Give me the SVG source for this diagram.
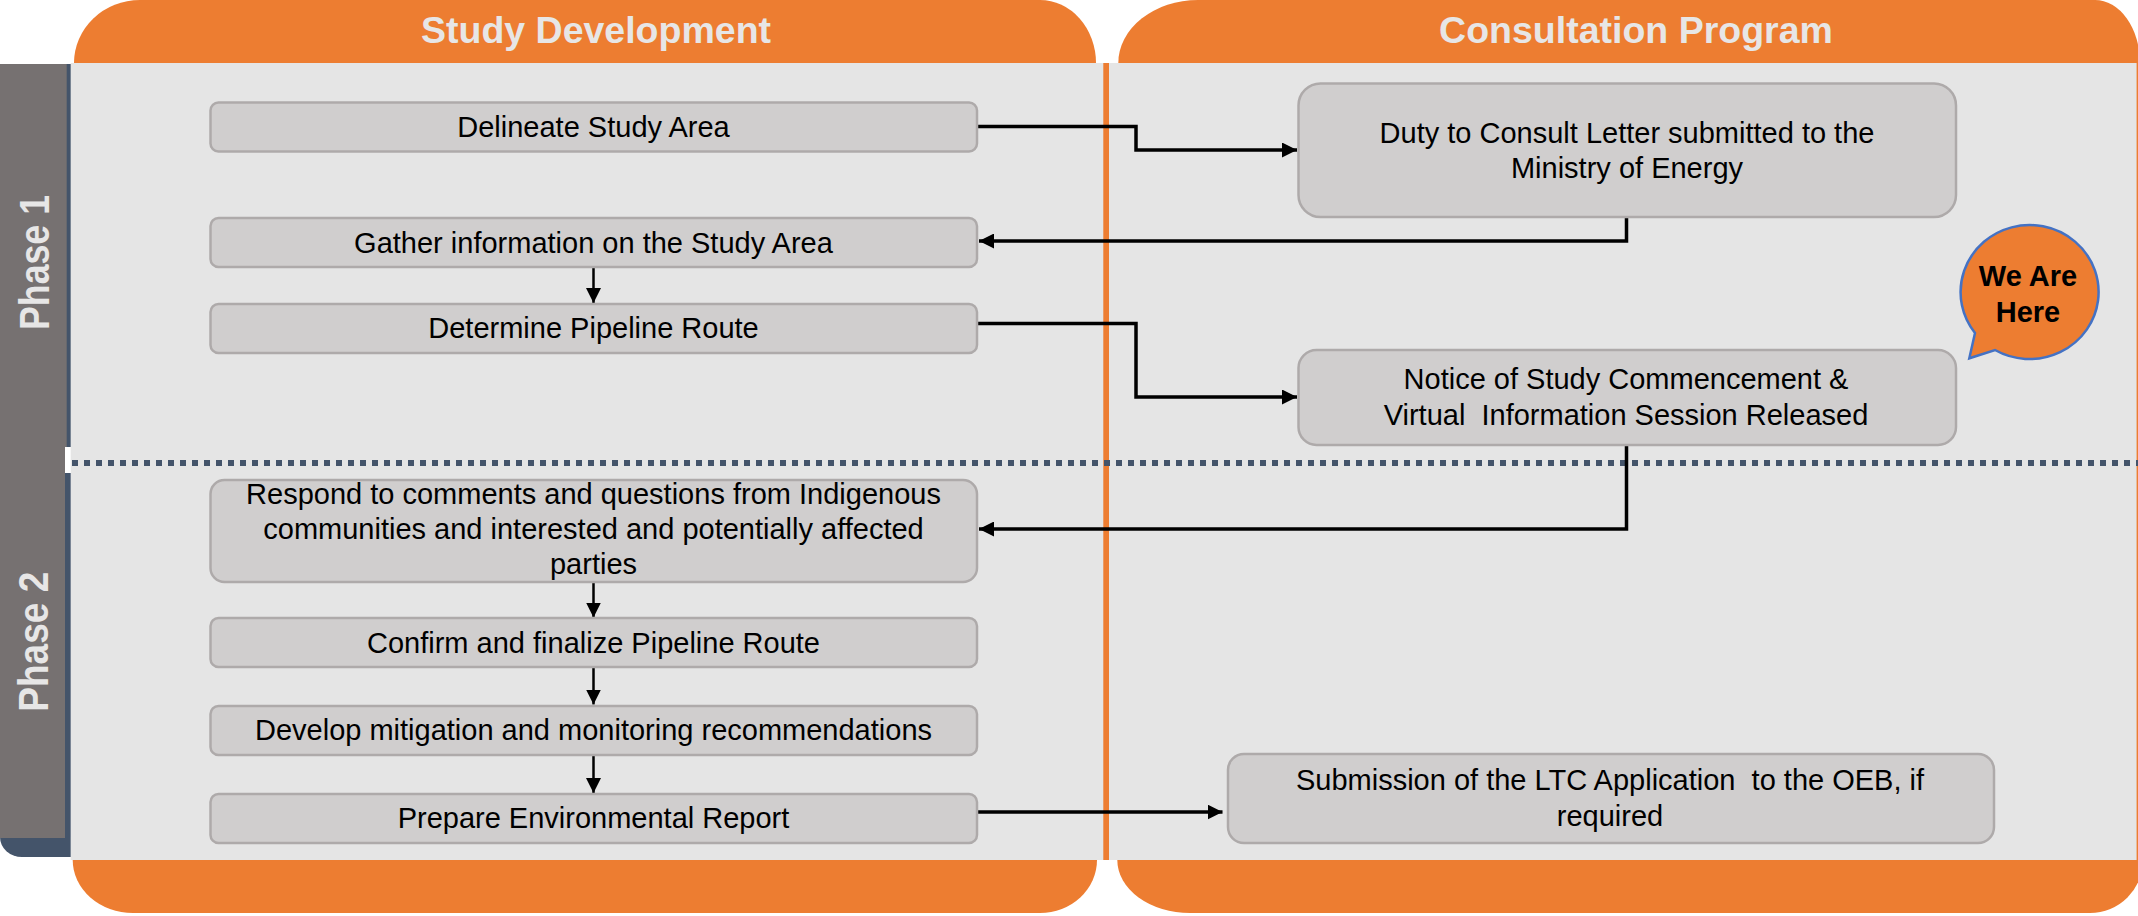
<svg xmlns="http://www.w3.org/2000/svg" width="2138" height="916" viewBox="0 0 2138 916">
<defs>
<style>
.hdr{fill:#ED7D31}
.hdrt{font-family:"Liberation Sans",Arial,sans-serif;font-weight:bold;font-size:37.5px;fill:#E7E6E6;text-anchor:middle}
.ph{font-family:"Liberation Sans",Arial,sans-serif;font-weight:bold;font-size:42px;fill:#E7E6E6;text-anchor:middle}
.box{fill:#D0CECE;stroke:#AEAAAA;stroke-width:2.5}
.t{font-family:"Liberation Sans",Arial,sans-serif;font-size:29px;fill:#000;text-anchor:middle}
.bt{font-family:"Liberation Sans",Arial,sans-serif;font-size:29px;font-weight:bold;fill:#000;text-anchor:middle}
.c{fill:none;stroke:#000;stroke-width:3.5}
.cv{fill:none;stroke:#000;stroke-width:2.5}
</style>
<marker id="ah" markerUnits="userSpaceOnUse" markerWidth="15" markerHeight="15" refX="15" refY="7.5" orient="auto">
<path d="M0,0 L15,7.5 L0,15 Z" fill="#000"/>
</marker>
</defs>
<rect x="0" y="0" width="2138" height="916" fill="#FFFFFF"/>
<g id="background">
<rect x="70.7" y="63" width="2067.3" height="797" fill="#E5E5E5"/>
<rect x="1103.3" y="63" width="5.7" height="797" fill="#ED7D31"/>
<rect x="2136.6" y="63" width="1.4" height="797" fill="#ED7D31"/>
<path class="hdr" d="M74,63 A66 63 0 0 1 140,0 H1040 A56 63 0 0 1 1096,63 Z"/>
<path class="hdr" d="M1118.3,63 A80 63 0 0 1 1198,0 H2095 A45 63 0 0 1 2140,63 Z"/>
<path class="hdr" d="M72.7,860 H1097 A57 53 0 0 1 1040,913 H133 A60.3 53 0 0 1 72.7,860 Z"/>
<path class="hdr" d="M1117.3,860 H2143 A53 53 0 0 1 2090,913 H1190 A72.7 53 0 0 1 1117.3,860 Z"/>
<text class="hdrt" x="596" y="43.3">Study Development</text>
<text class="hdrt" x="1636" y="43.3">Consultation Program</text>
<line x1="72" y1="463" x2="2138" y2="463" stroke="#44546A" stroke-width="6" stroke-dasharray="6 6"/>
</g>
<g id="phase1">
<rect x="0" y="64" width="70.7" height="383" fill="#44546A"/>
<rect x="0" y="64" width="66.7" height="383" fill="#767171"/>
<text class="ph" transform="translate(49,262.5) rotate(-90)" x="0" y="0" textLength="135" lengthAdjust="spacingAndGlyphs">Phase 1</text>
</g>
<g id="phase2">
<path d="M0,473 H70.7 V857 H22 A22 20 0 0 1 0,837 Z" fill="#44546A"/>
<rect x="0" y="447" width="65" height="391" fill="#767171"/>
<text class="ph" transform="translate(47.7,641.7) rotate(-90)" x="0" y="0" textLength="140" lengthAdjust="spacingAndGlyphs">Phase 2</text>
</g>
<g id="connectors">
<path class="c" d="M977.5,126.5 H1136 V150 H1297" marker-end="url(#ah)"/>
<path class="c" d="M1626.5,217 V241 H979" marker-end="url(#ah)"/>
<path class="c" d="M977.5,323.5 H1136 V397 H1297" marker-end="url(#ah)"/>
<path class="c" d="M1626.5,445 V529 H979" marker-end="url(#ah)"/>
<path class="c" d="M977.5,812 H1222.5" marker-end="url(#ah)"/>
<path class="cv" d="M593.5,267 V303" marker-end="url(#ah)"/>
<path class="cv" d="M593.5,582 V617.5" marker-end="url(#ah)"/>
<path class="cv" d="M593.5,667.5 V704.5" marker-end="url(#ah)"/>
<path class="cv" d="M593.5,755 V793" marker-end="url(#ah)"/>
</g>
<g id="delineate">
<rect class="box" x="210.5" y="102.5" width="766.5" height="49" rx="8"/>
<text class="t" x="593.5" y="136.5">Delineate Study Area</text>
</g>
<g id="gather">
<rect class="box" x="210.5" y="218" width="766.5" height="49" rx="8"/>
<text class="t" x="593.5" y="253">Gather information on the Study Area</text>
</g>
<g id="determine">
<rect class="box" x="210.5" y="304" width="766.5" height="49" rx="8"/>
<text class="t" x="593.5" y="338.3">Determine Pipeline Route</text>
</g>
<g id="respond">
<rect class="box" x="210.5" y="480" width="766.5" height="102" rx="14"/>
<text class="t" x="593.5" y="503.5">Respond to comments and questions from Indigenous</text>
<text class="t" x="593.5" y="538.5">communities and interested and potentially affected</text>
<text class="t" x="593.5" y="573.5">parties</text>
</g>
<g id="confirm">
<rect class="box" x="210.5" y="618" width="766.5" height="49" rx="8"/>
<text class="t" x="593.5" y="653.3">Confirm and finalize Pipeline Route</text>
</g>
<g id="develop">
<rect class="box" x="210.5" y="706" width="766.5" height="49" rx="8"/>
<text class="t" x="593.5" y="740">Develop mitigation and monitoring recommendations</text>
</g>
<g id="prepare">
<rect class="box" x="210.5" y="794" width="766.5" height="49" rx="8"/>
<text class="t" x="593.5" y="828.3">Prepare Environmental Report</text>
</g>
<g id="duty">
<rect class="box" x="1298.5" y="83.5" width="657.5" height="133.5" rx="22"/>
<text class="t" x="1627" y="142.7">Duty to Consult Letter submitted to the</text>
<text class="t" x="1627" y="178.3">Ministry of Energy</text>
</g>
<g id="notice">
<rect class="box" x="1298.5" y="350" width="657.5" height="95" rx="18"/>
<text class="t" x="1626" y="389.3">Notice of Study Commencement &amp;</text>
<text class="t" x="1626" y="425" xml:space="preserve">Virtual  Information Session Released</text>
</g>
<g id="submission">
<rect class="box" x="1228" y="754" width="766" height="89" rx="16"/>
<text class="t" x="1610" y="790" xml:space="preserve">Submission of the LTC Application  to the OEB, if</text>
<text class="t" x="1610" y="825.5">required</text>
</g>
<g id="we-are-here">
<path d="M1975,333 L1969.3,358.3 L1995,350 A69 67 0 1 0 1975,333 Z" fill="#ED7D31" stroke="#4472C4" stroke-width="2.5"/>
<text class="bt" x="2028" y="286">We Are</text>
<text class="bt" x="2028" y="321.7">Here</text>
</g>
</svg>
